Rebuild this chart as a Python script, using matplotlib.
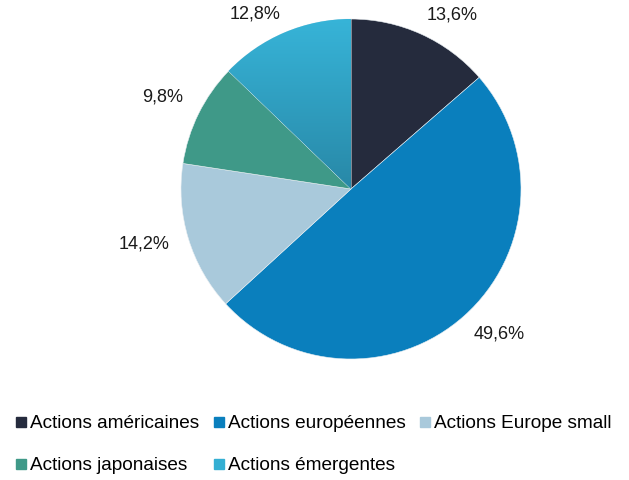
import numpy as np
import matplotlib
matplotlib.use("Agg")
import matplotlib.pyplot as plt
from matplotlib.lines import Line2D
from matplotlib.colors import LinearSegmentedColormap

plt.rcParams['font.family'] = ['Liberation Sans', 'DejaVu Sans']

categories = ['Actions américaines', 'Actions européennes', 'Actions Europe small',
              'Actions japonaises', 'Actions émergentes']
values = [13.6, 49.6, 14.2, 9.8, 12.8]
colors = ['#252B3D', '#0A7FBD', '#A9C9DB', '#3F9988', '#34AFD3']

fig = plt.figure(figsize=(6.29, 4.80), dpi=100)
ax = fig.add_axes([181 / 629, (480 - 359) / 480, 340 / 629, 340 / 480])

wedges, texts = ax.pie(
    values, colors=colors, startangle=90, counterclock=False,
    wedgeprops=dict(linewidth=0.4, edgecolor='#e8eef2'))

# labels outside the slices, anchored by their nearest corner (like Excel)
for w, v in zip(wedges, values):
    mid = np.deg2rad((w.theta1 + w.theta2) / 2)
    c, s = np.cos(mid), np.sin(mid)
    ha = 'left' if c > 0 else 'right'
    va = 'bottom' if s > 0.3 else ('top' if s < -0.3 else 'center')
    d = 1.06 + 0.08 * (1 - abs(s))
    ax.text(d * c, d * s, f'{v:.1f}%'.replace('.', ','), ha=ha, va=va,
            fontsize=13, color='#1a1a1a')

# vertical gradient on the last slice (emerging markets)
w = wedges[-1]
grad = LinearSegmentedColormap.from_list('em', ['#2888A7', '#37B4D8'])
g = np.linspace(0, 1, 256).reshape(-1, 1)
im = ax.imshow(g, cmap=grad, origin='lower', extent=[-1, 0, 0, 1],
               aspect='auto', zorder=w.get_zorder() + 0.1)
im.set_clip_path(w)
ax.set_xlim(-1, 1)
ax.set_ylim(-1, 1)
ax.axis('off')

# legend rows: reorder so matplotlib's column-first fill reads row-wise
order = [0, 3, 1, 4, 2]
handles = [Line2D([], [], marker='s', linestyle='none', markersize=7.5,
                  markerfacecolor=colors[i], markeredgecolor=colors[i]) for i in order]
labels = [categories[i] for i in order]
fig.legend(handles, labels, loc='upper left', bbox_to_anchor=(16 / 629, 1 - 415 / 480),
           ncol=3, frameon=False, fontsize=13.7, handlelength=0.55, handletextpad=0.2,
           columnspacing=0.75, labelspacing=1.3, borderpad=0, borderaxespad=0)

fig.savefig('out.png', dpi=100, facecolor='white')
